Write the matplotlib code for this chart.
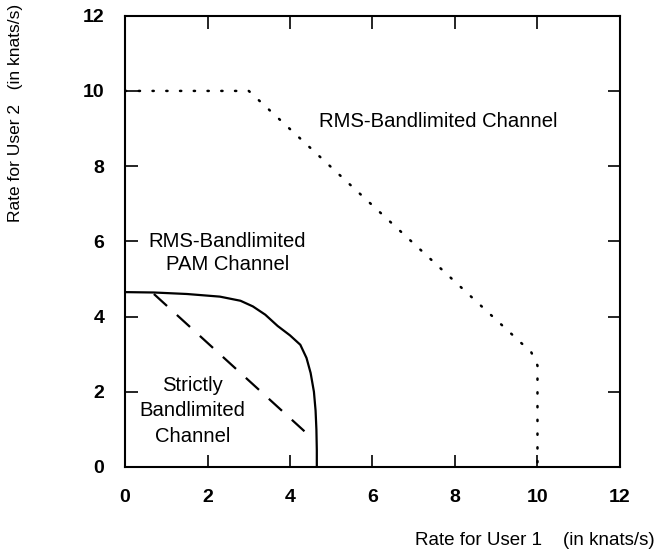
import numpy as np
import matplotlib.pyplot as plt

plt.rcParams['font.family'] = ['Liberation Sans', 'DejaVu Sans']

# RMS-bandlimited PAM channel (solid)
pam_x = [0.0, 0.7, 1.5, 2.3, 2.8, 3.1, 3.4, 3.7, 4.0, 4.25, 4.4, 4.5, 4.58, 4.62, 4.64, 4.65, 4.65]
pam_y = [4.65, 4.64, 4.6, 4.53, 4.42, 4.27, 4.05, 3.75, 3.5, 3.25, 2.9, 2.5, 2.0, 1.5, 1.0, 0.45, 0.0]

# strictly bandlimited channel (dashed)
strict_x = [0.7, 4.35]
strict_y = [4.6, 0.95]

# RMS-bandlimited channel (dotted)
rms_x = [0.0, 3.0, 9.85, 10.0, 10.0]
rms_y = [10.0, 10.0, 3.05, 2.7, 0.0]

ticks = [0, 2, 4, 6, 8, 10, 12]

fig = plt.figure(figsize=(6.58, 5.57), dpi=100)
ax = fig.add_axes([0.19, 0.1616, 0.7522, 0.8102])

ax.plot(pam_x, pam_y, color='black', lw=1.6)
ax.plot(strict_x, strict_y, color='black', lw=1.6, dashes=(8, 6))
ax.plot(rms_x, rms_y, color='black', lw=1.8, linestyle=(0, (0.5, 5.0)), dash_capstyle='round')

ax.set_xlim(0, 12)
ax.set_ylim(0, 12)
ax.set_xticks(ticks)
ax.set_yticks(ticks)
ax.tick_params(direction='in', length=9, width=1.2, top=True, right=True,
               labelsize=14)
ax.tick_params(axis='x', pad=16)
ax.tick_params(axis='y', pad=15)
for lab in ax.get_xticklabels() + ax.get_yticklabels():
    lab.set_fontweight('bold')
for s in ax.spines.values():
    s.set_linewidth(1.5)

ax.text(4.7, 9.2, 'RMS-Bandlimited Channel', fontsize=14.6, va='center', ha='left')
ax.text(2.48, 5.69, 'RMS-Bandlimited\nPAM Channel', fontsize=14.6, va='center', ha='center',
        linespacing=1.25)
ax.text(1.63, 1.49, 'Strictly\nBandlimited\nChannel', fontsize=14.6, va='center', ha='center',
        linespacing=1.45)

ax.set_xlabel('Rate for User 1    (in knats/s)', fontsize=13.5, ha='right', va='center')
ax.xaxis.set_label_coords(1.07, -0.162)
ax.set_ylabel('Rate for User 2   (in knats/s)', fontsize=12.5, ha='center', va='center')
ax.yaxis.set_label_coords(-0.222, 0.785)

fig.savefig('out.png', dpi=100)
